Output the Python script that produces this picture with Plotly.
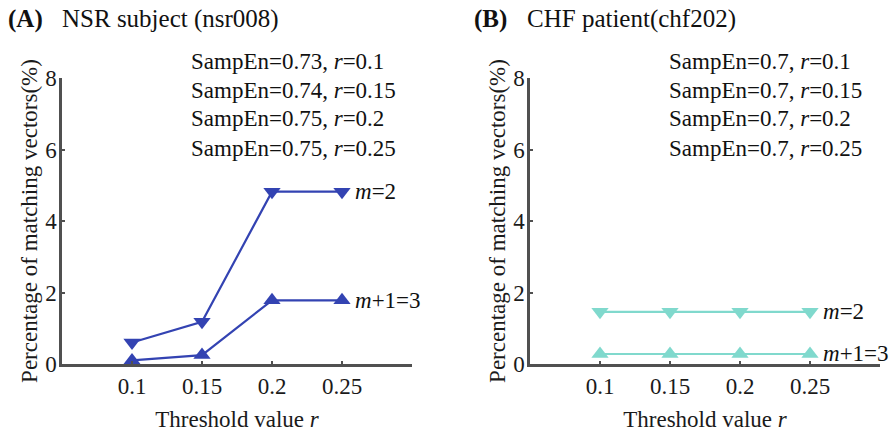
import plotly.graph_objects as go

r_values = [0.1, 0.15, 0.2, 0.25]
x_ticks = [0.1, 0.15, 0.2, 0.25]
x_ticklabels = ["0.1", "0.15", "0.2", "0.25"]
y_ticks = [0, 2, 4, 6, 8]

nsr_m2 = [0.6, 1.18, 4.82, 4.82]
nsr_m3 = [0.1, 0.25, 1.78, 1.78]
chf_m2 = [1.46, 1.46, 1.46, 1.46]
chf_m3 = [0.28, 0.28, 0.28, 0.28]

nsr_sampen = ["0.73", "0.74", "0.75", "0.75"]
chf_sampen = ["0.7", "0.7", "0.7", "0.7"]
r_labels = ["0.1", "0.15", "0.2", "0.25"]

NSR_COLOR = "#3343b2"
CHF_COLOR = "#80d9cd"
AXIS_COLOR = "#505050"
TEXT_COLOR = "#1a1a1a"
FONT = "Liberation Serif"
FS = 23

fig = go.Figure()

def add_series(xa, ya, y, color, symbol):
    fig.add_trace(go.Scatter(
        x=r_values, y=y, xaxis=xa, yaxis=ya, mode="lines+markers",
        line=dict(color=color, width=2.2),
        marker=dict(symbol=symbol, size=15, color=color),
        showlegend=False, cliponaxis=False))

add_series("x", "y", nsr_m2, NSR_COLOR, "triangle-down")
add_series("x", "y", nsr_m3, NSR_COLOR, "triangle-up")
add_series("x2", "y2", chf_m2, CHF_COLOR, "triangle-down")
add_series("x2", "y2", chf_m3, CHF_COLOR, "triangle-up")

axis_common = dict(
    showline=True, linecolor=AXIS_COLOR, linewidth=2.5, showgrid=False,
    zeroline=False, ticks="inside", ticklen=3, tickwidth=1.5, tickcolor=AXIS_COLOR,
    tickfont=dict(family=FONT, size=FS, color=TEXT_COLOR), automargin=False,
)
xdom1 = [62/892, 412/892]
xdom2 = [530/892, 880/892]
ydom = [(434-364)/434, (434-78)/434]

for i, xd in enumerate([xdom1, xdom2]):
    suffix = "" if i == 0 else "2"
    fig.update_layout(**{
        "xaxis" + suffix: dict(axis_common, domain=xd, range=[0.05, 0.3],
                               tickvals=x_ticks, ticktext=x_ticklabels,
                               anchor="y" + suffix,
                               title=dict(text="Threshold value <i>r</i>",
                                          font=dict(family=FONT, size=FS, color=TEXT_COLOR),
                                          standoff=13)),
        "yaxis" + suffix: dict(axis_common, domain=ydom, range=[0, 8],
                               tickvals=y_ticks, anchor="x" + suffix,
                               ticklabelstandoff=-2,
                               title=dict(text="Percentage of matching vectors(%)",
                                          font=dict(family=FONT, size=FS, color=TEXT_COLOR),
                                          standoff=2)),
    })

annotations = []
TITLE_Y = 1 - 19/434
for xpx, txt in [(6, "<b>(A)</b>"), (60, "NSR subject (nsr008)"),
                 (472, "<b>(B)</b>"), (525, "CHF patient(chf202)")]:
    annotations.append(dict(x=xpx/892, y=TITLE_Y, xref="paper", yref="paper", xanchor="left", yanchor="middle",
                            text=txt, showarrow=False, font=dict(family=FONT, size=25, color="#111")))

line_y = [62, 90, 119, 148]
for k in range(4):
    annotations.append(dict(x=189/892, y=1-line_y[k]/434, xref="paper", yref="paper", xanchor="left", yanchor="middle",
                            text=f"SampEn={nsr_sampen[k]}, <i>r</i>={r_labels[k]}", showarrow=False,
                            font=dict(family=FONT, size=FS, color="#111")))
    annotations.append(dict(x=667/892, y=1-line_y[k]/434, xref="paper", yref="paper", xanchor="left", yanchor="middle",
                            text=f"SampEn={chf_sampen[k]}, <i>r</i>={r_labels[k]}", showarrow=False,
                            font=dict(family=FONT, size=FS, color="#111")))

def series_label(xa, ya, xv, yv, text):
    annotations.append(dict(x=xv, y=yv, xref=xa, yref=ya, xanchor="left", yanchor="middle",
                            text=text, showarrow=False, xshift=11,
                            font=dict(family=FONT, size=FS, color="#111")))

series_label("x", "y", r_values[-1], nsr_m2[-1], "<i>m</i>=2")
series_label("x", "y", r_values[-1], nsr_m3[-1], "<i>m</i>+1=3")
series_label("x2", "y2", r_values[-1], chf_m2[-1], "<i>m</i>=2")
series_label("x2", "y2", r_values[-1], chf_m3[-1], "<i>m</i>+1=3")

fig.update_layout(
    width=892, height=434, margin=dict(l=0, r=0, t=0, b=0),
    paper_bgcolor="white", plot_bgcolor="white",
    annotations=annotations, font=dict(family=FONT),
)

fig.write_html("out.html")
